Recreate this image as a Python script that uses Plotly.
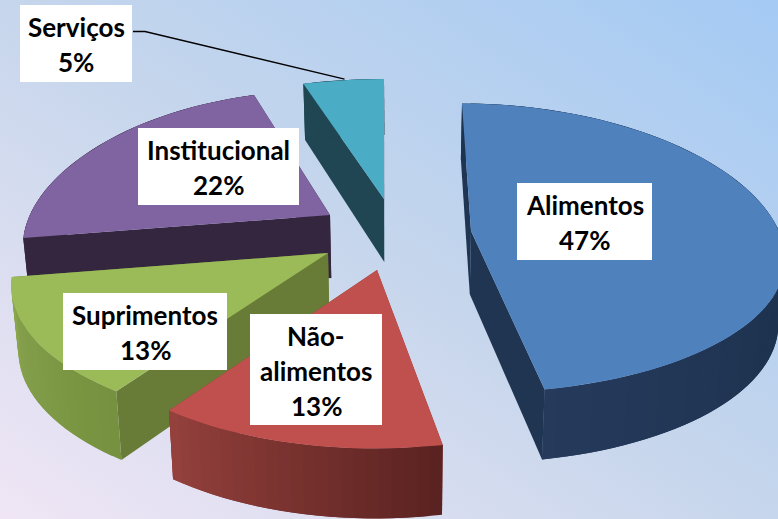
import math
import urllib.parse
import numpy as np
import plotly.graph_objects as go

# ---- data ----
categories = ["Alimentos", "Não-alimentos", "Suprimentos", "Institucional", "Serviços"]
label_lines = [["Alimentos"], ["Não-", "alimentos"], ["Suprimentos"], ["Institucional"], ["Serviços"]]
percent = [47, 13, 13, 22, 5]

# ---- styles / layout ----
W, H = 778, 519
top_colors = ["#4F81BD", "#C0504D", "#9BBB59", "#8064A2", "#4BACC6"]
cut_colors = ["#1F3552", "#8A3B38", "#687C37", "#35263F", "#1F4652"]
rim_start = ["#1E3350", "#5A2321", "#76913F", "#35263F", "#1F4652"]
rim_end = ["#263B5C", "#94403C", "#8BA650", "#35263F", "#1F4652"]
apex_x = [471, 377, 328, 330, 384]
apex_y = [231, 270, 253, 215, 199]
lean_back = [-9, 0, 0, 0, 0]
lean_front = [5, -2, 0, 0, 0]
scale_x = [1.0, 0.985, 1.01, 0.98, 1.04]
scale_front = [0.925, 1.02, 1.0, 1.0, 1.0]
scale_back = [1.02, 1.0, 1.0, 1.0, 0.96]
sag = [0, 0, 5, 4, 0]
draw_order = [4, 3, 0, 2, 1]
box_l = [517, 250, 63, 138, 20]
box_t = [183, 314, 293, 128, 5]
box_r = [652, 382, 227, 299, 132]
box_b = [260, 425, 370, 205, 82]
FONT = "Lato"
FONT_SIZE = 26
LINE_GAP = 35
TEXT_DY = 1


def hex_rgb(c):
    return tuple(int(c[i:i + 2], 16) for i in (1, 3, 5))


def mix(a, b, t):
    ra, rb = hex_rgb(a), hex_rgb(b)
    return "rgb(%d,%d,%d)" % tuple(round(x + (y - x) * t) for x, y in zip(ra, rb))


def project(i, deg):
    """Tilted, perspective view of a point on the pie's rim."""
    th = math.radians(deg)
    u, v = math.sin(th), math.cos(th)
    x = apex_x[i] + scale_x[i] * u * (308 - 60 * v) + lean_back[i] * max(v, 0) + lean_front[i] * max(-v, 0)
    y = apex_y[i] - v * (150 - 25 * v) * (scale_back[i] if v > 0 else scale_front[i]) + sag[i] * abs(u) ** 4
    return x, y, v


def lower(x, y, v):
    return x + (400 - x) * 0.018, y + 63 - 7 * v


fig = go.Figure()


def poly(xs, ys, color):
    fig.add_trace(go.Scatter(x=xs, y=ys, mode="lines", fill="toself", fillcolor=color,
                             line=dict(color=color, width=0), hoverinfo="skip", showlegend=False))


edges = np.concatenate([[0], np.cumsum(percent)]) * 3.6
for i in draw_order:
    a0, a1 = edges[i], edges[i + 1]
    degs = np.linspace(a0, a1, max(6, int((a1 - a0) / 2)) + 1)
    pts = [project(i, d) for d in degs]
    low = [lower(*p) for p in pts]
    ax, ay = apex_x[i], apex_y[i]
    abx, aby = lower(ax, ay, 0)
    # the two cut faces
    for p, q in ((pts[0], low[0]), (pts[-1], low[-1])):
        poly([ax, p[0], q[0], abx], [ay, p[1], q[1], aby], cut_colors[i])
    # outer rim, shaded along the arc; each strip overlaps the one before
    n = len(pts) - 1
    for k in range(n):
        t = k / max(n - 1, 1)
        if i == 0:
            t = max(0.0, 1 - (a1 - degs[k]) / 50)
        c = mix(rim_start[i], rim_end[i], t)
        e = min(k + 2, n)
        poly([pts[k][0], pts[k + 1][0], pts[e][0], low[e][0], low[k + 1][0], low[k][0]],
             [pts[k][1], pts[k + 1][1], pts[e][1], low[e][1], low[k + 1][1], low[k][1]], c)
    # top face
    poly([ax] + [p[0] for p in pts] + [ax], [ay] + [p[1] for p in pts] + [ay], top_colors[i])

# leader line of the smallest slice
sx, sy, _ = project(4, edges[4] + 9)
fig.add_trace(go.Scatter(x=[box_r[4] + 1, 145, sx + 1], y=[31.5, 31.5, sy - 1], mode="lines",
                         line=dict(color="black", width=1.4), hoverinfo="skip", showlegend=False))

# labels: white box plus real text lines
annotations, shapes = [], []
for i, cat in enumerate(categories):
    shapes.append(dict(type="rect", xref="x", yref="y", x0=box_l[i], x1=box_r[i], y0=box_t[i], y1=box_b[i],
                       fillcolor="white", line=dict(width=0), layer="above"))
    lines = label_lines[i] + [f"{percent[i]}%"]
    cx = (box_l[i] + box_r[i]) / 2
    cy = (box_t[i] + box_b[i]) / 2 + TEXT_DY
    for j, txt in enumerate(lines):
        annotations.append(dict(x=cx, y=cy + (j - (len(lines) - 1) / 2) * LINE_GAP, xref="x", yref="y", text=f"<b>{txt}</b>",
                                showarrow=False, xanchor="center", yanchor="middle",
                                font=dict(family=FONT, size=FONT_SIZE, color="black")))

svg = ('<svg xmlns="http://www.w3.org/2000/svg" width="778" height="519" preserveAspectRatio="none">'
       '<defs><linearGradient id="g" x1="0" y1="1" x2="1" y2="0">'
       '<stop offset="0" stop-color="#F0E6F5"/><stop offset="0.5" stop-color="#C6D6EC"/>'
       '<stop offset="1" stop-color="#A4CAF4"/></linearGradient></defs>'
       '<rect width="778" height="519" fill="url(#g)"/></svg>')
bg = "data:image/svg+xml," + urllib.parse.quote(svg)

fig.update_layout(
    width=W, height=H, margin=dict(l=0, r=0, t=0, b=0), showlegend=False,
    paper_bgcolor="#C6D6EC", plot_bgcolor="rgba(0,0,0,0)",
    xaxis=dict(range=[0, W], visible=False, fixedrange=True),
    yaxis=dict(range=[H, 0], visible=False, fixedrange=True),
    images=[dict(source=bg, xref="paper", yref="paper", x=0, y=1, sizex=1, sizey=1,
                 sizing="stretch", xanchor="left", yanchor="top", layer="below")],
    annotations=annotations, shapes=shapes,
)
fig.write_html("out.html", config=dict(displayModeBar=False),
               post_script="document.body.style.margin='0';document.body.style.overflow='hidden';")
